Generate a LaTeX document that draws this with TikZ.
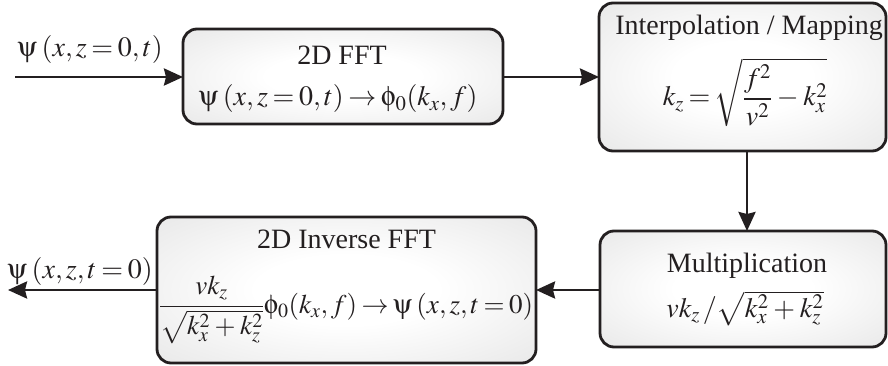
\documentclass[tikz,border=0pt]{standalone}
\usepackage{mathptmx}
\usepackage[Symbol]{upgreek}
\usepackage[no-math]{fontspec}
\setmainfont{Liberation Serif}
\usetikzlibrary{arrows.meta}
\definecolor{ink}{HTML}{231F20}
\pgfdeclareradialshading{boxshade}{\pgfpoint{0bp}{0bp}}{color(0bp)=(white); color(12bp)=(white); color(50bp)=(black!14); color(100bp)=(black!14)}
\newcommand{\mypsi}{\uppsi}
\newcommand{\myphi}{\upphi}
\begin{document}
\begin{tikzpicture}[x=1pt,y=-1pt,
  every node/.style={font=\fontsize{28}{32}\selectfont, text=ink, inner sep=0pt},
  mathtext/.style={execute at begin node={\thickmuskip=3mu plus 2mu\medmuskip=3mu}},
  blockbox/.style={draw=ink, line width=2.8pt, rounded corners=14pt, shading=boxshade},
  arr/.style={draw=ink, line width=2.8pt, -{Stealth[length=19pt,width=17pt,inset=2pt]}}]
\useasboundingbox (0,0) rectangle (888,366);
% boxes
\path[blockbox] (183,29) rectangle (503,124) node[pos=0.5] (b1) {};
\path[blockbox] (599,3) rectangle (886,151) node[pos=0.5] (b2) {};
\path[blockbox] (600,231) rectangle (886,347) node[pos=0.5] (b3) {};
\path[blockbox] (157,217) rectangle (536,363) node[pos=0.5] (b4) {};
\coordinate (b1w) at (183,77);
\coordinate (b1e) at (503,77);
\coordinate (b2w) at (599,77);
\coordinate (b2s) at (747,151);
\coordinate (b3n) at (747,231);
\coordinate (b3w) at (600,290);
\coordinate (b4e) at (536,290);
\coordinate (b4w) at (157,290);
\coordinate (in) at (15,77);
\coordinate (out) at (8,290);
% texts
\node[anchor=base] (t1) at (342,65) {2D FFT};
\node[anchor=base,mathtext] (f1) at (338,106) {$\mypsi\:(x,z=0,t)\to\myphi_0(k_x,f)$};
\node[anchor=base] (t2) at (749,35) {Interpolation / Mapping};
\node[anchor=base,mathtext] (f2) at (745,106) {$\displaystyle k_z=\sqrt{\frac{f^2}{v^2}-k_x^2}$};
\node[anchor=base] (t3) at (747,272) {Multiplication};
\node[anchor=base,mathtext] (f3) at (745,317) {$vk_z\,/\sqrt{k_x^2+k_z^2}$};
\node[anchor=base] (t4) at (346.5,248) {2D Inverse FFT};
\node[anchor=base,mathtext,font=\fontsize{27}{31}\selectfont] (f4) at (346,313) {$\displaystyle\frac{vk_z}{\sqrt{k_x^2+k_z^2}}\myphi_0(k_x,f)\to\mypsi\:(x,z,t=0)$};
\node[anchor=base,mathtext] (lin) at (90,57) {$\mypsi\:(x,z=0,t)$};
\node[anchor=base,mathtext] (lout) at (80,278) {$\mypsi\:(x,z,t=0)$};
% connectors
\draw[arr] (in) -- (b1w);
\draw[arr] (b1e) -- (b2w);
\draw[arr] (b2s) -- (b3n);
\draw[arr] (b3w) -- (b4e);
\draw[arr] (b4w) -- (out);
\end{tikzpicture}
\end{document}
